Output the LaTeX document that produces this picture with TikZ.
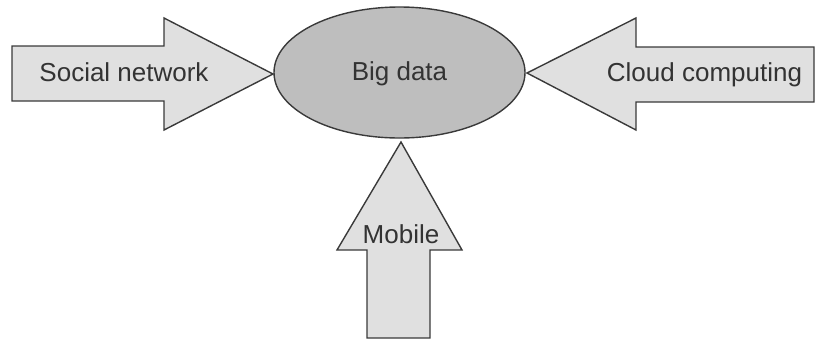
\documentclass[tikz,border=0pt]{standalone}
\usepackage{fontspec}
\setmainfont{Liberation Sans}
\usetikzlibrary{shapes.geometric}
\definecolor{arrowfill}{HTML}{E0E0E0}
\definecolor{ellfill}{HTML}{BEBEBE}
\definecolor{edge}{HTML}{3A3A3A}
\definecolor{txt}{HTML}{333333}
\tikzset{
  bigarrow/.style={draw=edge, fill=arrowfill, line width=1.4pt, line join=miter},
  lbl/.style={text=txt, font=\fontsize{26}{30}\selectfont, inner sep=0pt, anchor=base},
}
\begin{document}
\begin{tikzpicture}[x=1pt,y=-1pt]
\useasboundingbox (0,0) rectangle (819,341);
% left arrow
\draw[bigarrow] (12,46) -- (164,46) -- (164,18) -- (273,74) -- (164,130) -- (164,101) -- (12,101) -- cycle;
% right arrow
\draw[bigarrow] (814,47) -- (636,47) -- (636,18) -- (527,73) -- (636,130) -- (636,102) -- (814,102) -- cycle;
% bottom arrow
\draw[bigarrow] (367,338) -- (367,250) -- (337,250) -- (401,142) -- (462,250) -- (430,250) -- (430,338) -- cycle;
% ellipse
\node[ellipse, draw=edge, fill=ellfill, line width=1.4pt, minimum width=251pt, minimum height=131pt, inner sep=0pt] (big) at (399.5,72.5) {};
\node[lbl] (bigt) at (399.5,80.5) {Big data};
\node[lbl] (social) at (124,81.5) {Social network};
\node[lbl] (cloud) at (704.5,81.5) {Cloud computing};
\node[lbl] (mobile) at (401,243) {Mobile};
\end{tikzpicture}
\end{document}
